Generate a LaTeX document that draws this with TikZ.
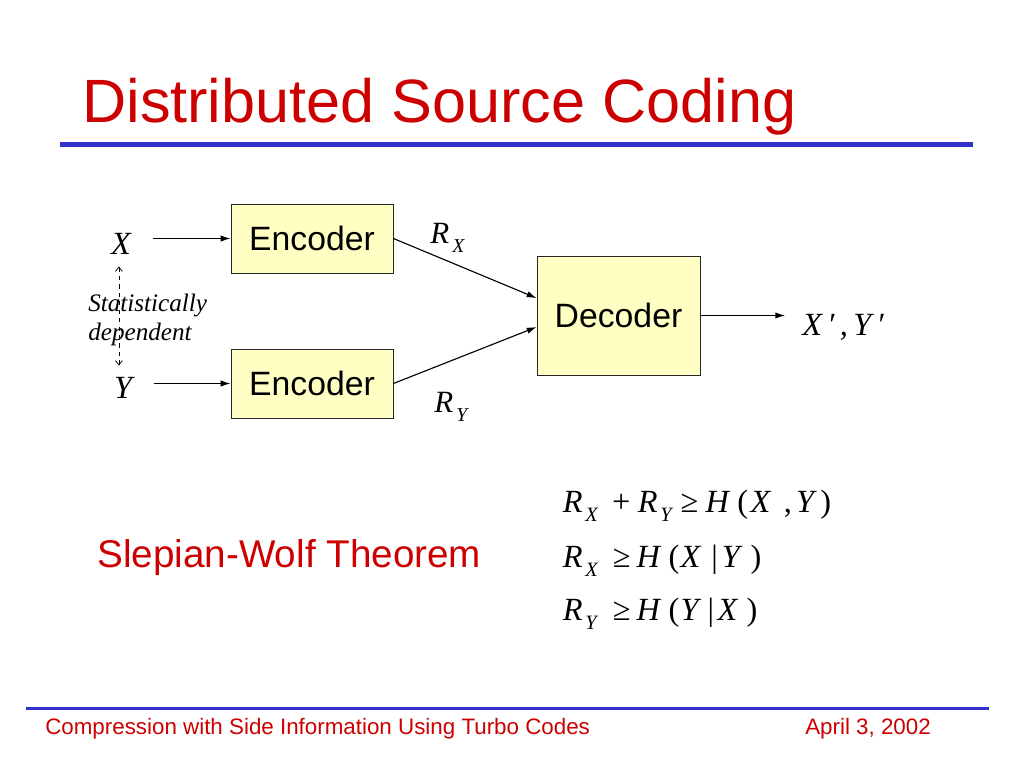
\documentclass[tikz,border=0pt]{standalone}
\usepackage{fontspec}
\setmainfont{Liberation Serif}
\setsansfont{Liberation Sans}
\usetikzlibrary{arrows.meta}
\definecolor{titlered}{RGB}{204,0,0}
\definecolor{ruleblue}{RGB}{51,51,204}
\definecolor{boxyellow}{RGB}{255,255,196}
\newcommand{\rsub}[2]{\textit{#1}\hspace{0.1em}\raisebox{-0.32em}{\fontsize{14}{14}\selectfont\textit{#2}}}
\newcommand{\sbx}[1]{\raisebox{-7pt}{\fontsize{14.5}{14.5}\selectfont\textit{#1}}}
\newcommand{\gl}[2]{\makebox[0pt][l]{\hspace*{#1pt}#2}}
\begin{document}
\begin{tikzpicture}[x=0.025cm,y=-0.025cm,
    block/.style={draw=black!85,line width=0.6pt,fill=boxyellow,minimum width=4.05cm,minimum height=1.725cm,font=\sffamily\fontsize{24}{28}\selectfont},
    var/.style={font=\itshape\fontsize{23}{27}\selectfont},
    flow/.style={line width=0.8pt,-{Latex[length=7pt,width=4.5pt]}},
    dep/.style={line width=0.5pt,dashed,{Straight Barb[length=3pt,width=5pt]}-{Straight Barb[length=3pt,width=5pt]}},
    eq/.style={anchor=base west,inner sep=0pt,font=\fontsize{23}{27}\selectfont}]
    \useasboundingbox (0,0) rectangle (1024,768);
    % title and rules
    \node[anchor=base west,inner sep=0pt,text=titlered,font=\sffamily\fontsize{43.5}{50}\selectfont] (title) at (82,123) {Distributed Source Coding};
    \draw[ruleblue,line width=3.5pt] (60,144.5) -- (973,144.5);
    \draw[ruleblue,line width=2.2pt] (26,708.5) -- (989,708.5);
    \node[anchor=base west,inner sep=0pt,text=titlered,font=\sffamily\fontsize{15.9}{18}\selectfont] (footL) at (45,734) {Compression with Side Information Using Turbo Codes};
    \node[anchor=base west,inner sep=0pt,text=titlered,font=\sffamily\fontsize{15.9}{18}\selectfont] (footR) at (805,734) {April 3, 2002};
    % blocks
    \node[block] (encX) at (312,238.5) {Encoder};
    \node[block] (encY) at (312,383.5) {Encoder};
    \node[block,minimum width=4.075cm,minimum height=2.975cm] (dec) at (618.5,315.5) {Decoder};
    \node[var] (X) at (121,244) {X};
    \node[var] (Y) at (123,388) {Y};
    \node[var,anchor=base west,inner sep=0pt] (out) at (802,335) {X\,′\,,\,Y\,′};
    \node[anchor=base west,inner sep=0pt,font=\fontsize{22}{26}\selectfont] (RX) at (430,243) {\rsub{R}{X}};
    \node[anchor=base west,inner sep=0pt,font=\fontsize{22}{26}\selectfont] (RY) at (434,412) {\rsub{R}{Y}};
    \node[anchor=base west,inner sep=0pt,align=left,font=\itshape\fontsize{17.9}{20}\selectfont] (stat) at (88,340) {Statistically\\dependent};
    % connectors
    \draw[flow,shorten <=12pt] (X.east |- encX.west) -- (encX.west);
    \draw[flow,shorten <=12pt] (Y.east |- encY.west) -- (encY.west);
    \draw[flow] (encX.east) -- (dec.168);
    \draw[flow] (encY.east) -- (dec.188);
    \draw[flow,shorten >=12pt] (dec.east) -- (out.west |- dec.east);
    \draw[dep,shorten <=5pt,shorten >=5pt] ([xshift=-1.5pt]X.south) -- ([xshift=-1.5pt]X.south |- Y.north);
    % theorem
    \node[anchor=base west,inner sep=0pt,text=titlered,font=\sffamily\fontsize{27.5}{32}\selectfont] (swt) at (97,567) {Slepian-Wolf Theorem};
    \node[eq] (eq1) at (562,512) {\gl{0}{\textit{R}}\gl{16}{\sbx{X}}\gl{35}{+}\gl{53.2}{\textit{R}}\gl{69.2}{\sbx{Y}}\gl{83.6}{≥}\gl{101.5}{\textit{H}}\gl{124}{(}\gl{133.5}{\textit{X}}\gl{157}{,}\gl{165.8}{\textit{Y}}\gl{183}{)}};
    \node[eq] (eq2) at (562,567) {\gl{0}{\textit{R}}\gl{16}{\sbx{X}}\gl{35.4}{≥}\gl{52.4}{\textit{H}}\gl{75.1}{(}\gl{83.6}{\textit{X}}\gl{105.5}{|}\gl{113}{\textit{Y}}\gl{133.5}{)}};
    \node[eq] (eq3) at (562,620) {\gl{0}{\textit{R}}\gl{16}{\sbx{Y}}\gl{35.4}{≥}\gl{52.4}{\textit{H}}\gl{75.1}{(}\gl{83.6}{\textit{Y}}\gl{102.8}{|}\gl{110}{\textit{X}}\gl{130.5}{)}};
\end{tikzpicture}
\end{document}
